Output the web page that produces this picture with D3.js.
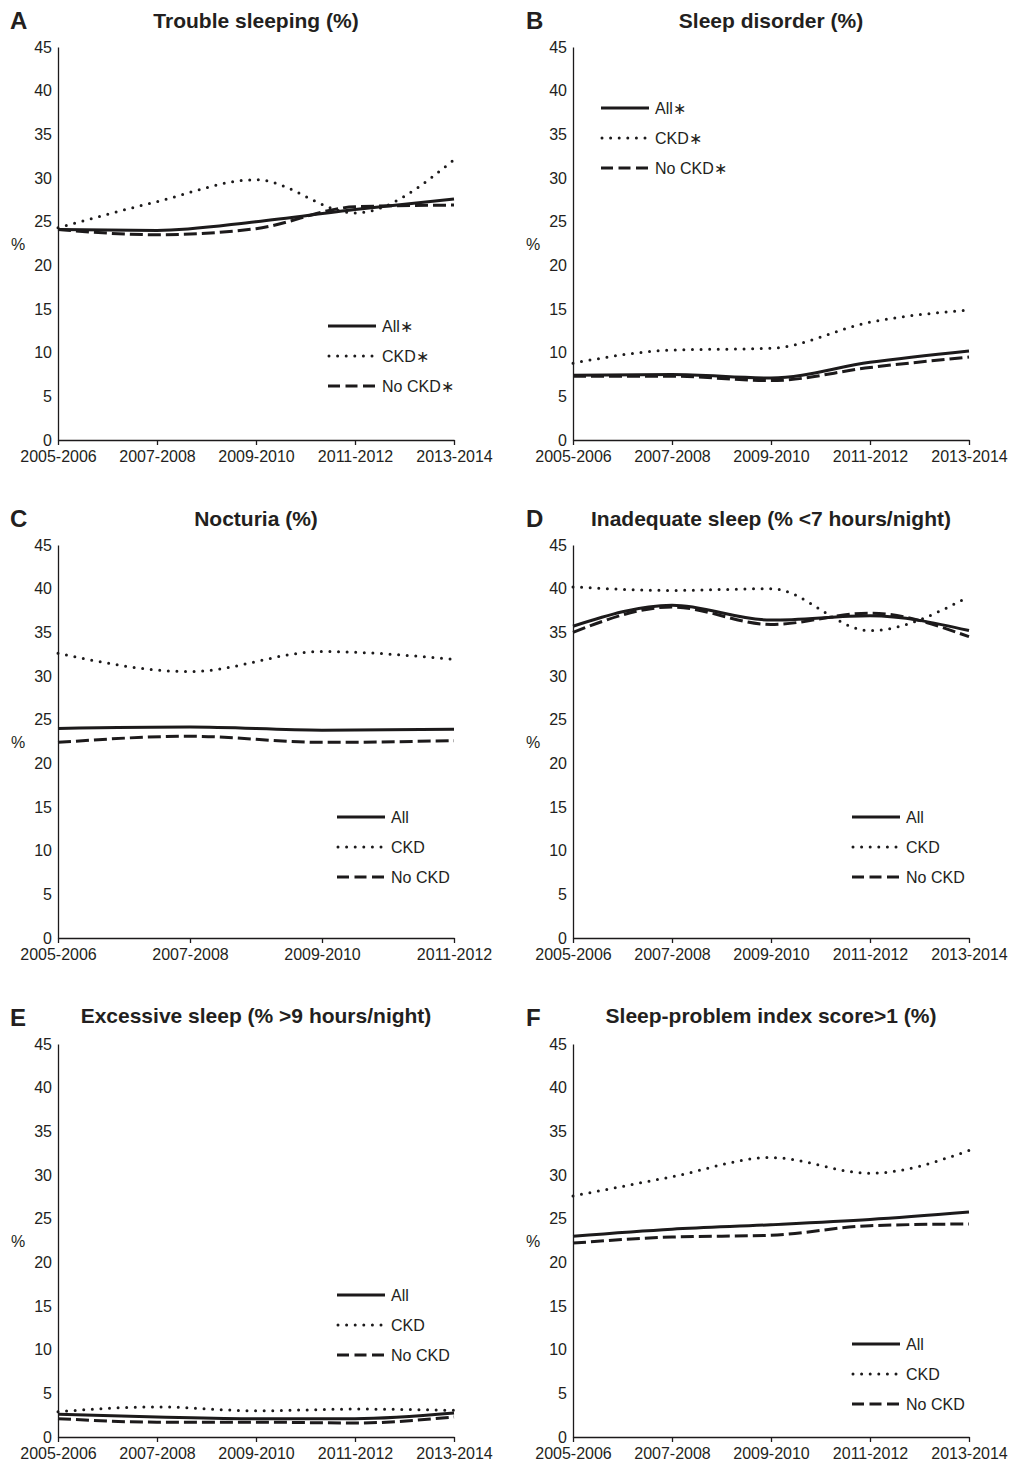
<!DOCTYPE html>
<html>
<head>
<meta charset="utf-8">
<script src="https://cdn.jsdelivr.net/npm/d3@7"></script>
<style>
  body { margin: 0; background: #fff; }
  svg text { font-family: "Liberation Sans", Arial, Helvetica, sans-serif; fill: #231f20; }
</style>
</head>
<body>
<svg id="chart" width="1013" height="1469"></svg>
<script>
// Sleep problems by survey period, six small panels (A-F).

const periods5 = ["2005-2006", "2007-2008", "2009-2010", "2011-2012", "2013-2014"];
const periods4 = ["2005-2006", "2007-2008", "2009-2010", "2011-2012"];
const yTicks = [0, 5, 10, 15, 20, 25, 30, 35, 40, 45];
const seriesNames = ["All", "CKD", "No CKD"];

const letters = ["A", "B", "C", "D", "E", "F"];
const titles = [
  "Trouble sleeping (%)",
  "Sleep disorder (%)",
  "Nocturia (%)",
  "Inadequate sleep (% <7 hours/night)",
  "Excessive sleep (% >9 hours/night)",
  "Sleep-problem index score>1 (%)",
];

// A: trouble sleeping
const troubleAll   = [24.1, 24.0, 25.0, 26.4, 27.6];
const troubleCKD   = [24.3, 27.3, 29.8, 26.0, 32.1];
const troubleNoCKD = [24.1, 23.5, 24.2, 26.7, 26.9];
// B: sleep disorder
const disorderAll   = [7.4, 7.5, 7.1, 8.9, 10.2];
const disorderCKD   = [8.8, 10.3, 10.5, 13.5, 14.9];
const disorderNoCKD = [7.3, 7.3, 6.8, 8.3, 9.5];
// C: nocturia (no 2013-2014 data)
const nocturiaAll   = [24.0, 24.15, 23.8, 23.9];
const nocturiaCKD   = [32.6, 30.5, 32.8, 31.9];
const nocturiaNoCKD = [22.4, 23.1, 22.4, 22.6];
// D: inadequate sleep
const inadequateAll   = [35.7, 38.1, 36.4, 36.9, 35.2];
const inadequateCKD   = [40.2, 39.8, 40.0, 35.2, 39.1];
const inadequateNoCKD = [35.0, 37.9, 35.9, 37.2, 34.5];
// E: excessive sleep
const excessiveAll   = [2.6, 2.3, 2.1, 2.1, 2.75];
const excessiveCKD   = [2.9, 3.45, 3.0, 3.2, 3.05];
const excessiveNoCKD = [2.1, 1.7, 1.7, 1.6, 2.3];
// F: sleep-problem index score > 1
const indexAll   = [23.0, 23.8, 24.3, 24.9, 25.75];
const indexCKD   = [27.6, 29.8, 32.0, 30.2, 32.8];
const indexNoCKD = [22.2, 22.9, 23.1, 24.2, 24.4];

const panelData = [
  { periods: periods5, values: [troubleAll, troubleCKD, troubleNoCKD], starred: true },
  { periods: periods5, values: [disorderAll, disorderCKD, disorderNoCKD], starred: true },
  { periods: periods4, values: [nocturiaAll, nocturiaCKD, nocturiaNoCKD], starred: false },
  { periods: periods5, values: [inadequateAll, inadequateCKD, inadequateNoCKD], starred: false },
  { periods: periods5, values: [excessiveAll, excessiveCKD, excessiveNoCKD], starred: false },
  { periods: periods5, values: [indexAll, indexCKD, indexNoCKD], starred: false },
];

// Layout in pixels.
const COL_X = [58, 573];
const PLOT_W = 396;
const ROW_TOP = [47, 545, 1044];
const PLOT_H = 393;
// Legend position (relative to the plot origin) for each panel.
const LEGEND_POS = [[270, 279], [28, 61], [279, 272], [279, 272], [279, 251], [279, 300]];
const LEGEND_STEP = 30;
const INK = "#1c1a1b";

const STYLES = [
  { width: 3, dash: null, cap: "butt" },
  { width: 3, dash: "0 8.6", cap: "round" },
  { width: 3, dash: "13 5", cap: "butt" },
];

const svg = d3.select("#chart");

panelData.forEach((p, i) => {
  const col = i % 2;
  const row = Math.floor(i / 2);
  const g = svg.append("g")
    .attr("transform", `translate(${COL_X[col]},${ROW_TOP[row]})`);

  const x = d3.scalePoint().domain(p.periods).range([0, PLOT_W]).padding(0);
  const y = d3.scaleLinear().domain([0, 45]).range([PLOT_H, 0]);

  // Panel letter and title.
  g.append("text")
    .attr("x", col === 0 ? -48 : -47)
    .attr("y", -18)
    .attr("font-size", 24)
    .attr("font-weight", "bold")
    .text(letters[i]);
  g.append("text")
    .attr("x", PLOT_W / 2)
    .attr("y", row === 2 ? -21 : -19)
    .attr("text-anchor", "middle")
    .attr("font-size", 21)
    .attr("font-weight", "bold")
    .text(titles[i]);

  // Y axis: a plain line with labels, no tick marks.
  const yAxis = g.append("g")
    .call(d3.axisLeft(y).tickValues(yTicks).tickSize(0).tickPadding(6));
  yAxis.select(".domain").attr("stroke", INK).attr("stroke-width", 1.3);
  yAxis.selectAll("text").attr("font-size", 16).attr("fill", INK)
    .style("font-family", '"Liberation Sans", Arial, sans-serif');

  // X axis with short ticks pointing down.
  const xAxis = g.append("g")
    .attr("transform", `translate(0,${PLOT_H})`)
    .call(d3.axisBottom(x).tickSizeInner(5).tickSizeOuter(0).tickPadding(6));
  xAxis.select(".domain").attr("stroke", INK).attr("stroke-width", 1.3);
  xAxis.selectAll(".tick line").attr("stroke", INK).attr("stroke-width", 1.3);
  xAxis.selectAll("text").attr("font-size", 16).attr("fill", INK)
    .style("font-family", '"Liberation Sans", Arial, sans-serif');

  // "%" axis label.
  g.append("text")
    .attr("x", -40)
    .attr("y", PLOT_H / 2 + 6)
    .attr("text-anchor", "middle")
    .attr("font-size", 16)
    .text("%");

  // Lightly smoothed lines, one per series.
  const line = d3.line()
    .x((d, k) => x(p.periods[k]))
    .y((d) => y(d))
    .curve(d3.curveMonotoneX);

  p.values.forEach((vals, s) => {
    const st = STYLES[s];
    g.append("path")
      .datum(vals)
      .attr("d", line)
      .attr("fill", "none")
      .attr("stroke", INK)
      .attr("stroke-width", st.width)
      .attr("stroke-linecap", st.cap)
      .attr("stroke-dasharray", st.dash);
  });

  // Legend.
  const [lx, ly] = LEGEND_POS[i];
  const legend = g.append("g").attr("transform", `translate(${lx},${ly})`);
  seriesNames.forEach((name, s) => {
    const st = STYLES[s];
    legend.append("line")
      .attr("x1", s === 1 ? 1 : 0).attr("x2", 48)
      .attr("y1", s * LEGEND_STEP).attr("y2", s * LEGEND_STEP)
      .attr("stroke", INK)
      .attr("stroke-width", st.width)
      .attr("stroke-linecap", st.cap)
      .attr("stroke-dasharray", s === 2 ? "12 5.5" : st.dash);
    legend.append("text")
      .attr("x", 54)
      .attr("y", s * LEGEND_STEP + 6)
      .attr("font-size", 16)
      .text(name + (p.starred ? "\u2217" : ""));
  });
});
</script>
</body>
</html>
